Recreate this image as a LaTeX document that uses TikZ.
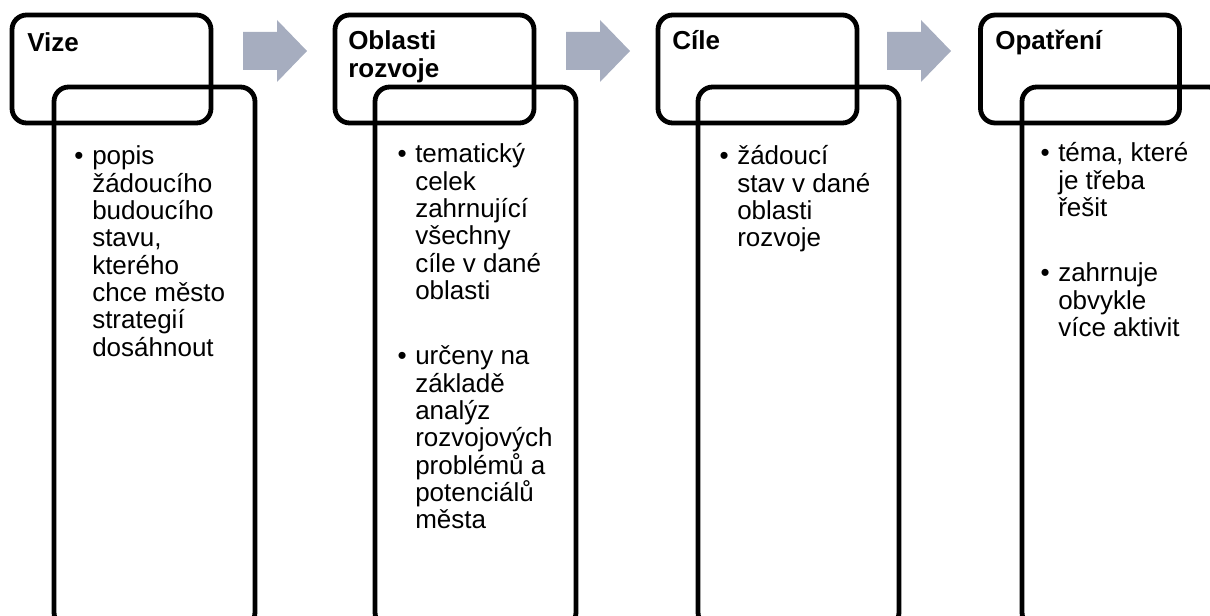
\documentclass[tikz,border=0pt]{standalone}
\usepackage{fontspec}
\setmainfont{Liberation Sans}
\definecolor{stepgray}{RGB}{166,173,191}
\newcommand{\bul}{\llap{\textbullet\hspace{6.5pt}}}
% lines stacked from the first baseline down
\newcommand{\textlines}[1]{\vtop{\let\\\cr\halign{##\hfil\cr#1\crcr}}}
\begin{document}
\begin{tikzpicture}[x=0.75pt, y=-0.75pt,
        box/.style={draw, line width=3.6pt, rounded corners=11pt, inner sep=0pt},
        headbox/.style={box, minimum width=149.25pt, minimum height=81pt},
        listbox/.style={box, minimum width=150.75pt, minimum height=405pt},
        headtext/.style={anchor=base west, inner sep=0pt,
            font=\fontsize{19.5pt}{20.5pt}\selectfont\bfseries},
        listtext/.style={anchor=base west, inner sep=0pt,
            font=\fontsize{19.5pt}{20.5pt}\selectfont}]
    \useasboundingbox (0,0) rectangle (1210,616);
    \clip (0,0) rectangle (1210,616);

    % grey step arrows
    \foreach \dx in {0,323,644}
        \fill[stepgray] (243+\dx,32) -- (277+\dx,32) -- (277+\dx,20) -- (307+\dx,51)
            -- (277+\dx,82) -- (277+\dx,70) -- (243+\dx,70) -- cycle;

    \node[headbox] at (111.5, 69) (vize) {};
    \node[listbox] at (154.5, 357) (vizeList) {};
    \node[headbox] at (434.5, 69) (oblasti) {};
    \node[listbox] at (475.5, 357) (oblastiList) {};
    \node[headbox] at (757.5, 69) (cile) {};
    \node[listbox] at (798.5, 357) (cileList) {};
    \node[headbox] at (1080, 69) (opatreni) {};
    \node[listbox] at (1122.5, 357) (opatreniList) {};

    \node[headtext] at (27, 52) (vizeHead) {Vize};
    \node[headtext] at (348, 50) (oblastiHead) {\textlines{Oblasti\\rozvoje}};
    \node[headtext] at (672, 50) (cileHead) {Cíle};
    \node[headtext] at (995, 50) (opatreniHead) {Opatření};

    \node[listtext] at (92, 165) (vize1) {\textlines{\bul popis\\žádoucího\\budoucího\\stavu,\\kterého\\chce město\\strategií\\dosáhnout}};
    \node[listtext] at (415, 163) (oblasti1) {\textlines{\bul tematický\\celek\\zahrnující\\všechny\\cíle v dané\\oblasti}};
    \node[listtext] at (415, 365) (oblasti2) {\textlines{\bul určeny na\\základě\\analýz\\rozvojových\\problémů a\\potenciálů\\města}};
    \node[listtext] at (737, 165) (cile1) {\textlines{\bul žádoucí\\stav v dané\\oblasti\\rozvoje}};
    \node[listtext] at (1058, 162) (opatreni1) {\textlines{\bul téma, které\\je třeba\\řešit}};
    \node[listtext] at (1058, 282) (opatreni2) {\textlines{\bul zahrnuje\\obvykle\\více aktivit}};
\end{tikzpicture}
\end{document}
